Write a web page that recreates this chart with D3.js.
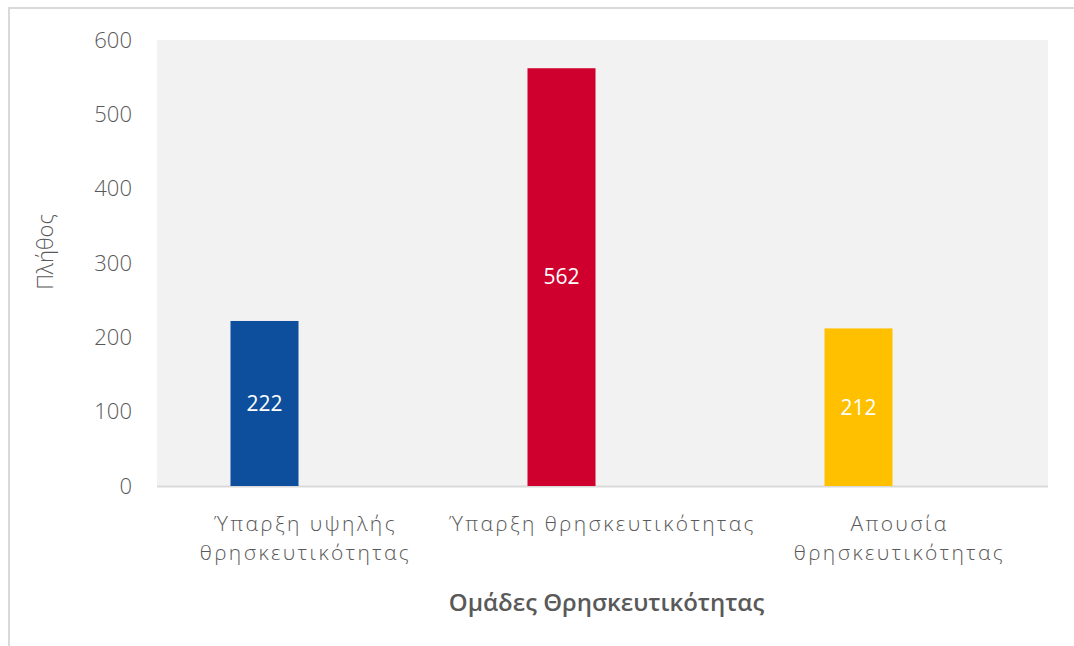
<!DOCTYPE html>
<html>
<head>
<meta charset="utf-8">
<script src="https://cdn.jsdelivr.net/npm/d3@7"></script>
<style>
  body { margin: 0; background: #fff; }
  text { font-family: "Open Sans", "Noto Sans", sans-serif; }
  .tick-label { font-size: 22px; fill: #595959; font-weight: 300; }
  .cat-label { font-size: 21px; fill: #595959; font-weight: 300; letter-spacing: 2.4px; }
  .axis-title { fill: #595959; }
  .bar-label { font-size: 21px; fill: #fff; }
</style>
</head>
<body>
<div id="chart"></div>
<script>
//////////////////////// Data ////////////////////////
const categories = [
  ["Ύπαρξη υψηλής", "θρησκευτικότητας"],
  ["Ύπαρξη θρησκευτικότητας"],
  ["Απουσία", "θρησκευτικότητας"]
]
const counts = [222, 562, 212]
const yTicks = [0, 100, 200, 300, 400, 500, 600]
const barColors = ["#0d4f9c", "#d0002e", "#ffc000"]

//////////////////////// Layout ////////////////////////
const W = 1074, H = 646
const plot = { left: 157, right: 1048, top: 40, bottom: 486 }
const barShift = -41 //bars sit left of the band centres in the original

const svg = d3.select("#chart").append("svg")
  .attr("width", W).attr("height", H)

//outer frame
svg.append("rect")
  .attr("x", 9).attr("y", 8)
  .attr("width", W + 20).attr("height", H + 20)
  .style("fill", "none").style("stroke", "#d9d9d9").style("stroke-width", 2)

//plot background
svg.append("rect")
  .attr("x", plot.left).attr("y", plot.top)
  .attr("width", plot.right - plot.left).attr("height", plot.bottom - plot.top)
  .style("fill", "#f2f2f2")

//////////////////////// Scales ////////////////////////
const x = d3.scaleBand()
  .domain(d3.range(counts.length))
  .range([plot.left, plot.right])
  .paddingInner(0.771)
  .paddingOuter(0.3855)

const y = d3.scaleLinear()
  .domain([0, 600])
  .range([plot.bottom, plot.top])

//y tick labels
svg.selectAll(".tick-label")
  .data(yTicks)
  .enter().append("text")
  .attr("class", "tick-label")
  .attr("x", 132)
  .attr("y", d => y(d))
  .attr("dy", "0.35em")
  .attr("text-anchor", "end")
  .text(d => d)

//baseline
svg.append("line")
  .attr("x1", plot.left).attr("x2", plot.right)
  .attr("y1", y(0) + 0.5).attr("y2", y(0) + 0.5)
  .style("stroke", "#d9d9d9").style("stroke-width", 2)

//bars
svg.selectAll(".bar")
  .data(counts)
  .enter().append("rect")
  .attr("class", "bar")
  .attr("x", (d, i) => x(i) + barShift)
  .attr("y", d => y(d))
  .attr("width", x.bandwidth())
  .attr("height", d => y(0) - y(d))
  .style("fill", (d, i) => barColors[i])

//value labels
svg.selectAll(".bar-label")
  .data(counts)
  .enter().append("text")
  .attr("class", "bar-label")
  .attr("x", (d, i) => x(i) + barShift + x.bandwidth() / 2)
  .attr("y", d => (y(d) + y(0)) / 2)
  .attr("dy", "0.35em")
  .attr("text-anchor", "middle")
  .text(d => d)

//category labels
const catGroups = svg.selectAll(".cat-group")
  .data(categories)
  .enter().append("text")
  .attr("class", "cat-label")
  .attr("text-anchor", "middle")
  .attr("transform", (d, i) => "translate(" + (x(i) + x.bandwidth() / 2) + ",524)")

catGroups.selectAll("tspan")
  .data(d => d)
  .enter().append("tspan")
  .attr("x", 0)
  .attr("y", (d, i) => i * 29)
  .attr("dy", "0.35em")
  .text(d => d)

//axis titles
svg.append("text")
  .attr("class", "axis-title")
  .attr("x", (plot.left + plot.right) / 2 + 4)
  .attr("y", 603)
  .attr("dy", "0.35em")
  .attr("text-anchor", "middle")
  .style("font-size", "24px")
  .style("font-weight", 600)
  .text("Ομάδες Θρησκευτικότητας")

svg.append("text")
  .attr("class", "axis-title")
  .attr("transform", "translate(45,252) rotate(-90)")
  .attr("dy", "0.35em")
  .attr("text-anchor", "middle")
  .style("font-size", "22px")
  .style("font-weight", 300)
  .text("Πλήθος")
</script>
</body>
</html>
